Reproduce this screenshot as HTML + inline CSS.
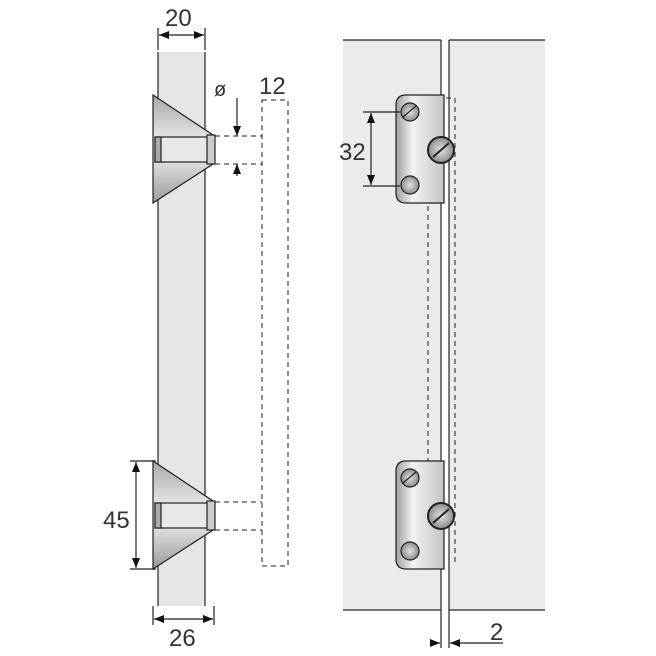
<!DOCTYPE html><html><head><style>body{margin:0;background:#fff}svg{display:block}text{font-family:"Liberation Sans",sans-serif;fill:#333}</style></head><body>
<svg width="656" height="656" viewBox="0 0 656 656" xmlns="http://www.w3.org/2000/svg">
<defs>
<linearGradient id="cone" x1="0" y1="0" x2="0" y2="1"><stop offset="0" stop-color="#a8a8a8"/><stop offset="0.45" stop-color="#ececec"/><stop offset="0.55" stop-color="#ececec"/><stop offset="1" stop-color="#999"/></linearGradient>
<linearGradient id="br" x1="0" y1="0" x2="1" y2="0"><stop offset="0" stop-color="#a0a0a0"/><stop offset="0.35" stop-color="#f2f2f2"/><stop offset="1" stop-color="#c4c4c4"/></linearGradient>
<radialGradient id="scr"><stop offset="0" stop-color="#e4e4e4"/><stop offset="1" stop-color="#8a8a8a"/></radialGradient>
<marker id="a" markerWidth="10" markerHeight="8" refX="10" refY="4" orient="auto" markerUnits="userSpaceOnUse"><path d="M0,0L10,4L0,8z" fill="#111"/></marker>
</defs>
<g stroke="#222" stroke-width="1.2" fill="none">
<rect x="158" y="52" width="47" height="554" fill="#e6e6e6" stroke="none"/>
<line x1="158" y1="52" x2="158" y2="606"/><line x1="205" y1="52" x2="205" y2="606"/>
<line x1="158" y1="28" x2="158" y2="50"/><line x1="205" y1="28" x2="205" y2="50"/>
<line x1="182" y1="35" x2="159" y2="35" marker-end="url(#a)"/><line x1="182" y1="35" x2="204" y2="35" marker-end="url(#a)"/>
<g><path d="M153,95 L213,135 L213,164 L153,203 Z" fill="url(#cone)"/>
<rect x="155" y="137" width="55" height="25" fill="#e8e8e8"/>
<rect x="155" y="137" width="6" height="25" fill="#aaa"/>
<rect x="207" y="135" width="8" height="29" fill="#ccc"/></g>
<g transform="translate(0,366)"><path d="M153,95 L213,135 L213,164 L153,203 Z" fill="url(#cone)"/>
<rect x="155" y="137" width="55" height="25" fill="#e8e8e8"/>
<rect x="155" y="137" width="6" height="25" fill="#aaa"/>
<rect x="207" y="135" width="8" height="29" fill="#ccc"/></g>
<g stroke-dasharray="5,4" stroke-width="1"><line x1="215" y1="136" x2="262" y2="136"/><line x1="215" y1="164" x2="262" y2="164"/>
<line x1="215" y1="502" x2="262" y2="502"/><line x1="215" y1="530" x2="262" y2="530"/>
<rect x="262" y="100" width="26" height="466"/></g>
<line x1="237" y1="98" x2="237" y2="136" marker-end="url(#a)"/><line x1="237" y1="176" x2="237" y2="164" marker-end="url(#a)"/>
<line x1="130" y1="461" x2="156" y2="461"/><line x1="130" y1="569" x2="156" y2="569"/>
<line x1="136" y1="515" x2="136" y2="462" marker-end="url(#a)"/><line x1="136" y1="515" x2="136" y2="568" marker-end="url(#a)"/>
<line x1="153" y1="606" x2="153" y2="625"/><line x1="214" y1="606" x2="214" y2="625"/>
<line x1="183" y1="619" x2="154" y2="619" marker-end="url(#a)"/><line x1="183" y1="619" x2="213" y2="619" marker-end="url(#a)"/>
<rect x="343" y="40" width="98" height="570" fill="#ebebeb" stroke="none"/>
<rect x="449" y="40" width="96" height="570" fill="#ebebeb" stroke="none"/>
<line x1="343" y1="40" x2="441" y2="40"/><line x1="449" y1="40" x2="545" y2="40"/>
<line x1="343" y1="610" x2="441" y2="610"/><line x1="449" y1="610" x2="545" y2="610"/>
<line x1="441" y1="40" x2="441" y2="648"/><line x1="449" y1="40" x2="449" y2="648"/>
<g stroke-dasharray="5,4" stroke-width="1"><line x1="428" y1="98" x2="428" y2="566"/><line x1="455" y1="98" x2="455" y2="566"/><line x1="428" y1="98" x2="455" y2="98"/></g>
<g><path d="M406,95 H444 V203 H406 Q396,203 396,193 V105 Q396,95 406,95Z" fill="url(#br)"/>
<circle cx="410" cy="112" r="9" fill="url(#scr)"/><circle cx="410" cy="185" r="9" fill="url(#scr)"/>
<line x1="403" y1="117" x2="416" y2="106"/>
<circle cx="441" cy="150" r="13" fill="url(#scr)" stroke-width="2"/><line x1="433" y1="157" x2="449" y2="143" stroke-width="2"/></g>
<g transform="translate(0,366)"><path d="M406,95 H444 V203 H406 Q396,203 396,193 V105 Q396,95 406,95Z" fill="url(#br)"/>
<circle cx="410" cy="112" r="9" fill="url(#scr)"/><circle cx="410" cy="185" r="9" fill="url(#scr)"/>
<line x1="403" y1="117" x2="416" y2="106"/>
<circle cx="441" cy="150" r="13" fill="url(#scr)" stroke-width="2"/><line x1="433" y1="157" x2="449" y2="143" stroke-width="2"/></g>
<line x1="363" y1="112" x2="400" y2="112"/><line x1="363" y1="186" x2="400" y2="186"/>
<line x1="371" y1="150" x2="371" y2="113" marker-end="url(#a)"/><line x1="371" y1="150" x2="371" y2="185" marker-end="url(#a)"/>
<line x1="430" y1="643" x2="440" y2="643" marker-end="url(#a)"/><line x1="503" y1="643" x2="450" y2="643" marker-end="url(#a)"/>
</g>
<g font-size="24"><text x="165" y="26">20</text><text x="259" y="94">12</text><text x="214" y="96" font-size="20">ø</text>
<text x="103" y="528">45</text><text x="169" y="646">26</text><text x="339" y="160">32</text><text x="490" y="640">2</text></g>
</svg></body></html>
